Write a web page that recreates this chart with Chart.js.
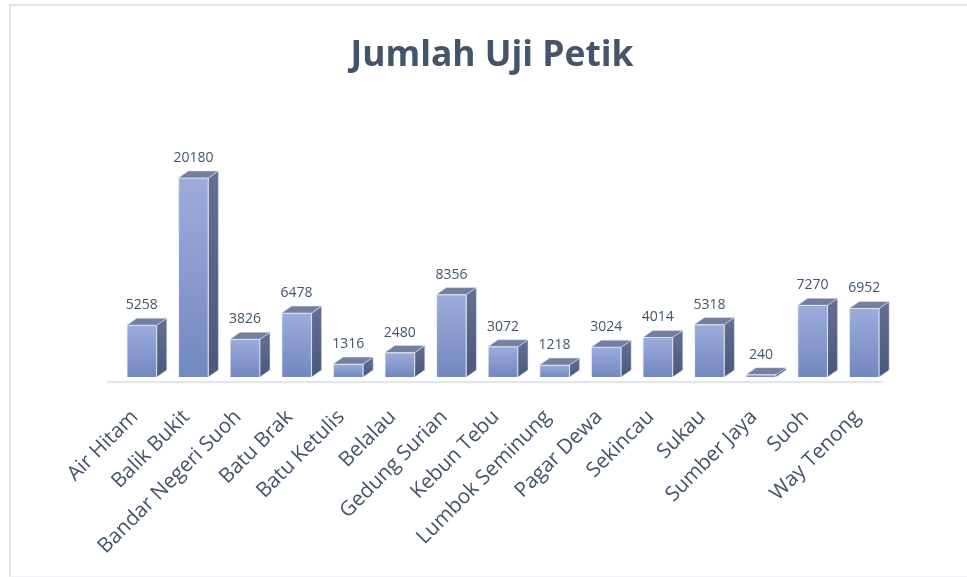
<!DOCTYPE html>
<html><head><meta charset="utf-8">
<script src="https://cdn.jsdelivr.net/npm/chart.js@4"></script>
<style>
html,body{margin:0;padding:0;background:#fff;overflow:hidden}
#wrap{position:relative;width:967px;height:577px;overflow:hidden}
#frame{position:absolute;left:9px;top:4px;right:-5px;bottom:0;border-left:2px solid #e0e4ee;border-top:2px solid #e0e4ee;border-bottom:1px solid #f4f5f8}
canvas{position:absolute;left:0;top:0}
</style></head><body>
<div id="wrap"><div id="frame"></div><canvas id="c" width="967" height="577"></canvas></div>
<script>
const categories = ["Air Hitam","Balik Bukit","Bandar Negeri Suoh","Batu Brak","Batu Ketulis","Belalau","Gedung Surian","Kebun Tebu","Lumbok Seminung","Pagar Dewa","Sekincau","Sukau","Sumber Jaya","Suoh","Way Tenong"];
const values = [5258,20180,3826,6478,1316,2480,8356,3072,1218,3024,4014,5318,240,7270,6952];
const titleText = "Jumlah Uji Petik";
const textColor = "#44546a";

function frontFill(ctx){
  const y = ctx.chart.scales.y;
  if (ctx.raw === undefined || !y) return "#8497cf";
  const y0 = y.getPixelForValue(ctx.raw), y1 = y.getPixelForValue(0);
  if (!isFinite(y0) || !isFinite(y1)) return "#8497cf";
  const g = ctx.chart.ctx.createLinearGradient(0,y0,0,y1);
  g.addColorStop(0,"#9cacdc"); g.addColorStop(1,"#7387c0");
  return g;
}
const bars3d = {
  id:"bars3d",
  beforeDatasetsDraw(chart){
    const c = chart.ctx, dx = 10, dy = 7, x = chart.scales.x;
    c.save();
    c.strokeStyle="#e3e6ef"; c.lineWidth=2.5;
    c.beginPath(); c.moveTo(x.left-9,chart.chartArea.bottom+5); c.lineTo(x.right-7,chart.chartArea.bottom+5); c.stroke();
    chart.getDatasetMeta(0).data.forEach(el=>{
      const l=el.x-el.width/2, r=el.x+el.width/2, t=el.y, b=el.base;
      const g=c.createLinearGradient(0,t-dy,0,b);
      g.addColorStop(0,"#636f93"); g.addColorStop(1,"#4b587e");
      c.strokeStyle="rgba(225,229,240,0.55)"; c.lineWidth=1;
      c.fillStyle=g;
      c.beginPath(); c.moveTo(r,t); c.lineTo(r+dx,t-dy); c.lineTo(r+dx,b-dy); c.lineTo(r,b); c.closePath(); c.fill(); c.stroke();
      c.fillStyle="#737f9f";
      c.beginPath(); c.moveTo(l,t); c.lineTo(l+dx,t-dy); c.lineTo(r+dx,t-dy); c.lineTo(r,t); c.closePath(); c.fill(); c.stroke();
    });
    c.restore();
  },
  afterDatasetsDraw(chart){
    const c = chart.ctx;
    c.save();
    c.fillStyle=textColor; c.font='14px "Open Sans"'; c.textAlign="center"; c.textBaseline="middle";
    chart.getDatasetMeta(0).data.forEach((el,i)=>c.fillText(String(values[i]),el.x,el.y-20));
    c.restore();
  }
};
new Chart(document.getElementById("c"),{
  type:"bar",
  data:{labels:categories,datasets:[{data:values,backgroundColor:frontFill,borderColor:"rgba(225,229,240,0.7)",borderWidth:1,barThickness:30}]},
  options:{
    responsive:false,animation:false,
    layout:{padding:{left:94,right:77,top:0,bottom:0}},
    plugins:{legend:{display:false},tooltip:{enabled:false},
      title:{display:true,text:titleText,color:textColor,font:{family:'"Open Sans"',size:35.4,weight:"bold"},padding:{top:35,bottom:82.5}}},
    scales:{
      x:{grid:{display:false},border:{display:false},
        afterFit(s){s.height=200;},
        ticks:{color:textColor,font:{family:'"Open Sans"',size:20.6},minRotation:45,maxRotation:45,padding:20,labelOffset:-7,autoSkip:false}},
      y:{min:0,max:22000,grid:{display:false},border:{display:false},ticks:{display:false},afterFit(s){s.width=22;}}
    }
  },
  plugins:[bars3d]
});
</script></body></html>
